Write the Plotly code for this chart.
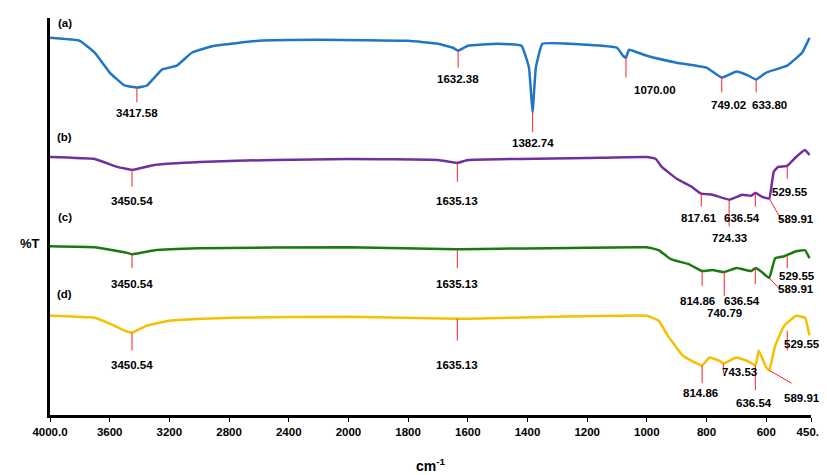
import plotly.graph_objects as go

# wavenumber axis is split: 400 cm-1 per tick above 2000, 200 below
tick_wn = [4000, 3600, 3200, 2800, 2400, 2000, 1800, 1600, 1400, 1200, 1000, 800, 600, 450]
tick_txt = ["4000.0", "3600", "3200", "2800", "2400", "2000", "1800", "1600", "1400",
            "1200", "1000", "800", "600", "450.0"]


def u(w):
    return (4000 - w) / 400 if w >= 2000 else 5 + (2000 - w) / 200


# spectra (offset %T, arbitrary units, larger = lower on plot)
wn_a = [4000, 3800, 3700, 3600, 3500, 3417, 3350, 3300, 3250, 3150, 3050, 2900, 2600, 2200, 1800,
        1700, 1650, 1632, 1600, 1500, 1420, 1395, 1383, 1372, 1350, 1200, 1100, 1080, 1070, 1060,
        1000, 900, 800, 749, 700, 660, 634, 600, 530, 480, 455]
t_a = [30, 33, 45, 65, 78, 80, 78, 70, 62, 58, 45, 38, 33, 32, 33,
       36, 40, 43, 38, 36, 38, 60, 105, 60, 36, 37, 40, 48, 50, 42,
       48, 55, 60, 70, 64, 68, 72, 65, 58, 45, 30]
wn_b = [4000, 3700, 3550, 3450, 3300, 3000, 2500, 2000, 1700, 1635, 1600, 1200, 1000, 970, 950,
        900, 850, 818, 780, 724, 680, 650, 636, 615, 590, 575, 560, 530, 500, 470, 455]
t_b = [150, 152, 160, 163, 158, 155, 153, 152, 153, 156, 153, 151, 150, 152, 160,
       172, 180, 187, 188, 193, 188, 189, 186, 190, 192, 165, 160, 159, 150, 143, 148]
wn_c = [4000, 3700, 3500, 3450, 3300, 3000, 2000, 1635, 1000, 960, 920, 860, 815, 780, 741,
        700, 650, 636, 615, 590, 570, 540, 500, 470, 455]
t_c = [240, 241, 246, 248, 244, 242, 241, 243, 241, 244, 253, 258, 265, 264, 266,
       262, 265, 262, 266, 272, 252, 250, 245, 244, 252]
wn_d = [4000, 3700, 3600, 3500, 3450, 3350, 3200, 2800, 2000, 1635, 1000, 960, 930, 880, 840,
        815, 790, 760, 743, 700, 660, 636, 625, 600, 590, 570, 540, 500, 470, 455]
t_d = [310, 312, 318, 325, 327, 320, 315, 312, 311, 313, 310, 315, 330, 350, 357,
       360, 352, 355, 358, 352, 356, 360, 345, 362, 365, 340, 320, 310, 312, 330]

series = [("(a)", wn_a, t_a, "#1f77c4", 15),
          ("(b)", wn_b, t_b, "#7030a0", 130),
          ("(c)", wn_c, t_c, "#1a7a10", 210),
          ("(d)", wn_d, t_d, "#f5c000", 288)]

# peak markers: line start (wn, t), line end (wn, t), label (wn, t), text
peaks = [
    (3417.58, 80, 3417.58, 95, 3417.58, 106, "3417.58"),
    (1632.38, 43, 1632.38, 60, 1632.38, 71, "1632.38"),
    (1382.74, 105, 1382.74, 125, 1382.74, 136, "1382.74"),
    (1070.00, 50, 1070.00, 70, 974, 83, "1070.00"),
    (749.02, 70, 749.02, 85, 725, 98, "749.02"),
    (633.80, 72, 633.80, 85, 590, 98, "633.80"),
    (3450.54, 163, 3450.54, 180, 3450.54, 194, "3450.54"),
    (1635.13, 156, 1635.13, 175, 1635.13, 194, "1635.13"),
    (817.61, 187, 817.61, 200, 824, 212, "817.61"),
    (724.33, 193, 724.33, 220, 724.33, 232, "724.33"),
    (636.54, 186, 636.54, 200, 680, 212, "636.54"),
    (589.91, 192, 546, 215, 500, 213, "589.91"),
    (529.55, 159, 529.55, 172, 520, 185, "529.55"),
    (3450.54, 248, 3450.54, 262, 3450.54, 278, "3450.54"),
    (1635.13, 243, 1635.13, 262, 1635.13, 278, "1635.13"),
    (814.86, 265, 814.86, 280, 830, 295, "814.86"),
    (740.79, 266, 740.79, 290, 740.79, 307, "740.79"),
    (636.54, 262, 636.54, 278, 680, 295, "636.54"),
    (589.91, 272, 555, 283, 500, 283, "589.91"),
    (529.55, 250, 529.55, 262, 498, 270, "529.55"),
    (3450.54, 327, 3450.54, 345, 3450.54, 360, "3450.54"),
    (1635.13, 313, 1635.13, 335, 1635.13, 360, "1635.13"),
    (814.86, 360, 814.86, 378, 820, 388, "814.86"),
    (743.53, 358, 743.53, 368, 690, 367, "743.53"),
    (636.54, 360, 636.54, 385, 640, 398, "636.54"),
    (589.91, 365, 515, 378, 480, 393, "589.91"),
    (529.55, 325, 529.55, 345, 480, 338, "529.55"),
]

fig = go.Figure()
font = dict(family="Liberation Sans", size=11.5, color="black")

for name, wn, t, col, ly in series:
    fig.add_trace(go.Scatter(x=[u(w) for w in wn], y=t, mode="lines", line=dict(color=col, width=2.5,
                             shape="spline", smoothing=0.3), showlegend=False))
    fig.add_annotation(x=u(3900), y=ly, text="<b>" + name + "</b>", showarrow=False, font=font)

for w0, y0, w1, y1, lw, ly, txt in peaks:
    fig.add_trace(go.Scatter(x=[u(w0), u(w1)], y=[y0, y1], mode="lines",
                             line=dict(color="#ff2020", width=1), showlegend=False))
    fig.add_annotation(x=u(lw), y=ly, text="<b>" + txt + "</b>", showarrow=False, font=font)

fig.update_layout(
    width=827, height=475, margin=dict(l=42, r=19, t=10, b=65),
    plot_bgcolor="white", paper_bgcolor="white", font=font,
    xaxis=dict(range=[0, u(450)], tickvals=[u(w) for w in tick_wn], ticktext=["<b>%s</b>" % s for s in tick_txt],
               showline=True, linecolor="black", linewidth=3, ticks="outside", ticklen=4,
               tickcolor="black", showgrid=False, zeroline=False,
               title=dict(text="<b>cm<sup>-1</sup></b>", standoff=25)),
    yaxis=dict(range=[410, 10], showline=True, linecolor="black", linewidth=3, showticklabels=False,
               showgrid=False, zeroline=False),
)
fig.add_annotation(x=-0.01, xref="paper", xanchor="right", y=237, text="<b>%T</b>", showarrow=False,
                   font=dict(family="Liberation Sans", size=13))

fig.write_html("out.html")
